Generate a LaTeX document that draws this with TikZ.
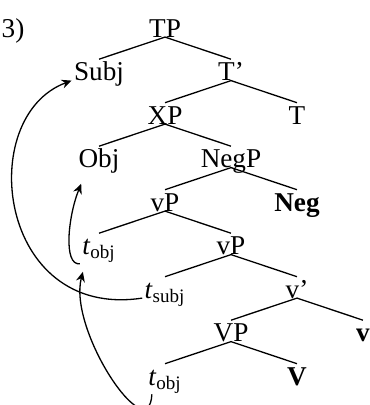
\documentclass[tikz,border=0pt]{standalone}
\usepackage{fontspec}
\setmainfont{Liberation Serif}
\usetikzlibrary{arrows.meta,positioning}
\tikzset{
  syn/.style={inner sep=1pt, text height=9.5pt, text depth=3.4pt, font=\fontsize{13.6pt}{16pt}\selectfont},
  branch/.style={line width=0.65pt},
  movearrow/.style={-{Stealth[length=5pt, width=4.5pt]}, line width=0.65pt},
}

\begin{document}
\begin{tikzpicture}[x=0.5pt, y=-0.5pt, on grid, node distance=21.75pt and 33pt]
    \useasboundingbox (0,0) rectangle (369,405);
    \node[syn] (tp) at (165,31) {TP};
    \node[syn, left=76pt of tp] (num) {3)};
    \node[syn, below left=of tp] (subj) {Subj};
    \node[syn, below right=of tp] (tbar) {T'};
    \node[syn, below left=of tbar] (xp) {XP};
    \node[syn, below right=of tbar] (thead) {T};
    \node[syn, below left=of xp] (obj) {Obj};
    \node[syn, below right=of xp] (negp) {NegP};
    \node[syn, below left=of negp] (vp) {vP};
    \node[syn, below right=of negp] (neg) {\textbf{Neg}};
    \node[syn, below left=of vp] (tobja) {\textit{t}\textsubscript{obj}};
    \node[syn, below right=of vp] (vpb) {vP};
    \node[syn, below left=of vpb] (tsubj) {\textit{t}\textsubscript{subj}};
    \node[syn, below right=of vpb] (vbar) {v'};
    \node[syn, below left=of vbar] (bigvp) {VP};
    \node[syn, below right=of vbar] (vhead) {\textbf{v}};
    \node[syn, below left=of bigvp] (tobjb) {\textit{t}\textsubscript{obj}};
    \node[syn, below right=of bigvp] (bigv) {\textbf{V}};
    % branches
    \draw[branch] (tp.base) -- (subj.north);
    \draw[branch] (tp.base) -- (tbar.north);
    \draw[branch] (tbar.base) -- (xp.north);
    \draw[branch] (tbar.base) -- (thead.north);
    \draw[branch] (xp.base) -- (obj.north);
    \draw[branch] (xp.base) -- (negp.north);
    \draw[branch] (negp.base) -- (vp.north);
    \draw[branch] (negp.base) -- (neg.north);
    \draw[branch] (vp.base) -- (tobja.north);
    \draw[branch] (vp.base) -- (vpb.north);
    \draw[branch] (vpb.base) -- (tsubj.north);
    \draw[branch] (vpb.base) -- (vbar.north);
    \draw[branch] (vbar.base) -- (bigvp.north);
    \draw[branch] (vbar.base) -- (vhead.north);
    \draw[branch] (bigvp.base) -- (tobjb.north);
    \draw[branch] (bigvp.base) -- (bigv.north);
    % movement
    \draw[movearrow] (tsubj.base west) .. controls +(-145,22) and +(-97,36) .. (subj.base west);
    \draw[movearrow] ([xshift=3pt]tobjb.south west) .. controls +(-3,56) and +(-15,59) .. ([shift={(1.5pt,-4pt)}]tobja.south west);
    \draw[movearrow] (tobja.south west) .. controls +(-17,2) and +(-13,32) .. ([shift={(2.5pt,-3.5pt)}]obj.south west);
\end{tikzpicture}
\end{document}
